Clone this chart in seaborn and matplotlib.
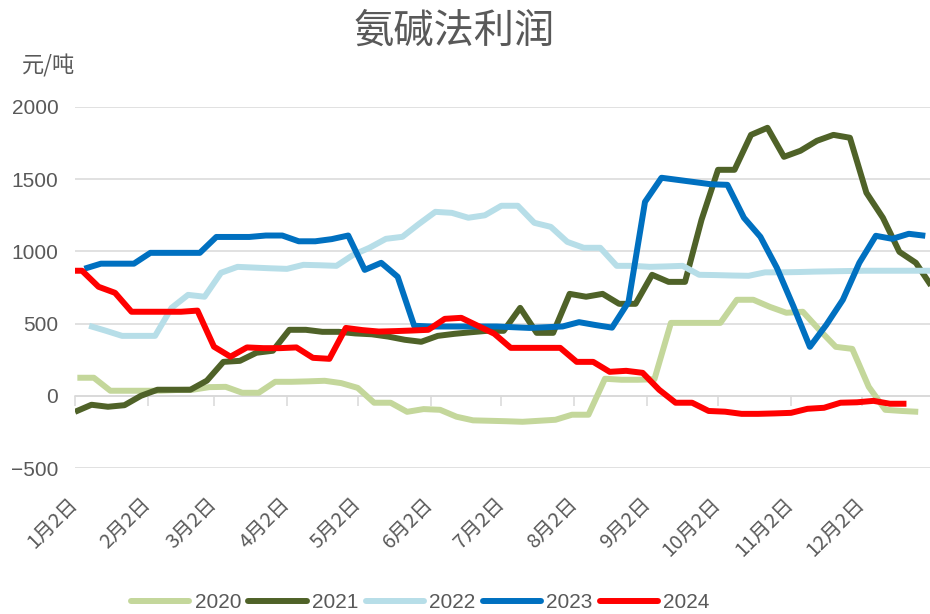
import pandas as pd
import seaborn as sns
import matplotlib.pyplot as plt

# weekly profit (yuan/ton), one list per year
years = ['2020', '2021', '2022', '2023', '2024']
first_dates = {'2020': '2020-01-03', '2021': '2021-01-02', '2022': '2022-01-08',
               '2023': '2023-01-06', '2024': '2024-01-05'}

v2020 = [125, 125, 35, 35, 35, 35, 40, 42, 60, 62, 21, 21, 97, 97, 100, 104, 88, 55,
         -48, -48, -111, -92, -97, -145, -170, -173, -176, -180, -173, -166, -131, -131,
         118, 111, 111, 115, 505, 505, 505, 505, 665, 665, 616, 575, 582, 457, 339, 325,
         62, -97, -105, -111]
v2021 = [-111, -62, -76, -65, 0, 42, 42, 42, 105, 235, 242, 298, 312, 457, 457, 443,
         443, 432, 426, 410, 388, 374, 415, 429, 440, 450, 450, 609, 436, 436, 706, 686,
         706, 637, 637, 838, 789, 789, 1219, 1565, 1565, 1807, 1856, 1655, 1697, 1766,
         1807, 1787, 1406, 1233, 997, 921, 750]
v2022 = [485, 451, 415, 415, 415, 609, 699, 686, 852, 893, 888, 883, 879, 907, 904,
         900, 975, 1025, 1087, 1101, 1190, 1274, 1267, 1233, 1250, 1316, 1316, 1198,
         1170, 1066, 1025, 1025, 900, 900, 893, 896, 900, 838, 836, 833, 831, 855, 855,
         857, 860, 862, 864, 866, 866, 866, 866, 866]
v2023 = [880, 915, 915, 915, 990, 990, 990, 990, 1100, 1100, 1100, 1110, 1110, 1070,
         1070, 1085, 1110, 872, 921, 824, 485, 480, 480, 480, 480, 480, 475, 470, 475,
         480, 510, 490, 472, 650, 1343, 1510, 1495, 1480, 1465, 1461, 1233, 1101, 886,
         620, 339, 492, 665, 921, 1108, 1087, 1122, 1108]
v2024_jan2 = 866
v2024 = [866, 755, 713, 582, 582, 582, 582, 590, 340, 271, 335, 330, 330, 335, 263,
         256, 470, 455, 445, 448, 452, 457, 533, 540, 485, 430, 332, 332, 332, 332, 235,
         235, 166, 173, 159, 42, -48, -48, -105, -110, -125, -125, -122, -118, -90, -83,
         -48, -45, -35, -55, -55]

month_labels = ['1月2日', '2月2日', '3月2日', '4月2日', '5月2日', '6月2日',
                '7月2日', '8月2日', '9月2日', '10月2日', '11月2日', '12月2日']
colors = ['#C4D79B', '#4F6228', '#B7DEE8', '#0070C0', '#FF0000']

values = {'2020': v2020, '2021': v2021, '2022': v2022, '2023': v2023, '2024': v2024}
frames = []
for y in years:
    dates = pd.date_range(first_dates[y], periods=len(values[y]), freq='7D')
    if y == '2024':
        dates = dates.insert(0, pd.Timestamp('2024-01-02'))
        vals = [v2024_jan2] + values[y]
    else:
        vals = values[y]
    day = (dates - pd.Timestamp(f'{y}-01-02')).days
    frames.append(pd.DataFrame({'day': day, 'profit': vals, 'year': y}))
df = pd.concat(frames, ignore_index=True)

tick_days = [(pd.Timestamp(f'2021-{m}-02') - pd.Timestamp('2021-01-02')).days for m in range(1, 13)]

sns.set_style('white')
plt.rcParams['font.family'] = ['Liberation Sans', 'Noto Sans CJK SC']
cjk = ['Noto Sans CJK SC', 'DejaVu Sans']
grey = '#595959'

fig = plt.figure(figsize=(9.3, 6.14), dpi=100)
ax = fig.add_axes([75 / 930, 146 / 614, 855 / 930, 361 / 614])

sns.lineplot(data=df, x='day', y='profit', hue='year', palette=colors, hue_order=years,
             estimator=None, linewidth=4.3, legend=False, ax=ax,
             solid_joinstyle='round', solid_capstyle='butt')

ax.set_xlim(0, 363)
ax.set_ylim(-500, 2000)
ax.set_yticks(range(-500, 2001, 500))
ax.yaxis.grid(True, color='#D9D9D9', linewidth=1.1)
ax.set_axisbelow(True)
for s in ax.spines.values():
    s.set_visible(False)
ax.set_xlabel('')
ax.set_ylabel('')
ax.tick_params(axis='y', length=0, pad=12, labelsize=15, labelcolor=grey)

ax.set_xticks(tick_days)
ax.set_xticklabels(month_labels, family=cjk, fontsize=14.5, color=grey)
ax.tick_params(axis='x', length=0, pad=24)
plt.setp(ax.get_xticklabels(), rotation=45, ha='right', va='center', rotation_mode='anchor')

# horizontal axis line with tick marks crosses at zero
sec = ax.secondary_xaxis(0, transform=ax.transData)
sec.set_xticks(tick_days, labels=[])
sec.tick_params(length=7, width=1.1, color='#D9D9D9', direction='out')
sec.spines['bottom'].set_color('#D9D9D9')
sec.spines['bottom'].set_linewidth(1.1)

fig.text(0.488, 0.949, '氨碱法利润', family=cjk, fontsize=29, color=grey,
         ha='center', va='center')
fig.text(0.024, 0.893, '元/吨', family=cjk, fontsize=16, color=grey, ha='left', va='center')

handles = [plt.Line2D([], [], color=c, linewidth=4.3) for c in colors]
fig.legend(handles, years, loc='center', bbox_to_anchor=(0.452, 0.018), ncol=5,
           frameon=False, fontsize=15, labelcolor=grey, handlelength=2.8,
           handletextpad=0.25, columnspacing=0.35)

fig.savefig('out.png', dpi=100)
